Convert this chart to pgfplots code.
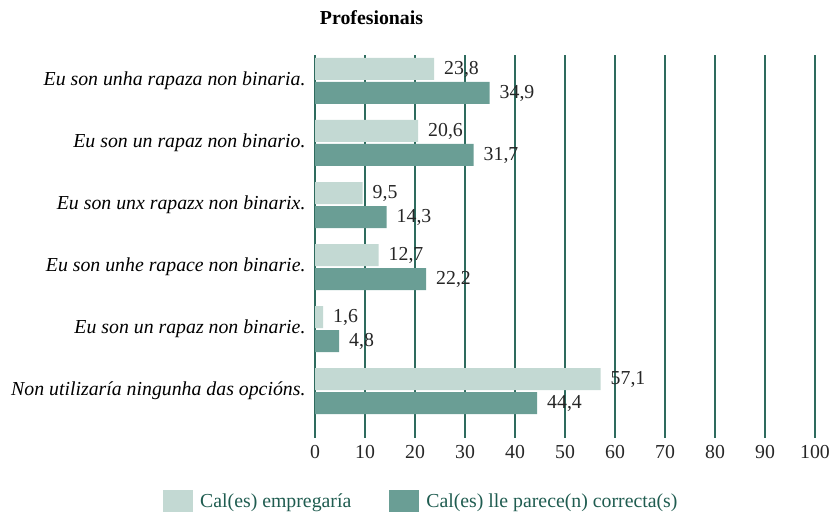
\documentclass[border=0pt]{standalone}
\usepackage{fontspec}
\setmainfont{Liberation Serif}
\usepackage{pgfplots}
\pgfplotsset{compat=1.18}
\definecolor{lightbar}{HTML}{C3D9D3}
\definecolor{darkbar}{HTML}{6A9E95}
\definecolor{gridc}{HTML}{2E6B5E}
\definecolor{legtext}{HTML}{1F5C50}
\newcommand{\fs}{\fontsize{19.8bp}{23bp}\selectfont}
\begin{document}
\begin{tikzpicture}[x=1bp,y=1bp]
\path[use as bounding box] (0,0) rectangle (832,-512);
\node[font=\fs\bfseries] at (371.5,-18) {Profesionais};
\begin{axis}[
 at={(315bp,-438bp)}, anchor=south west,
 scale only axis, width=500bp, height=383bp,
 xmin=0, xmax=100, xtick={0,10,...,100},
 ymin=-0.419, ymax=5.758, y dir=reverse,
 ytick={0,...,5},
 yticklabels={Eu son unha rapaza non binaria.,Eu son un rapaz non binario.,Eu son unx rapazx non binarix.,Eu son unhe rapace non binarie.,Eu son un rapaz non binarie.,Non utilizaría ningunha das opcións.},
 axis line style={draw=none},
 xmajorgrids, grid style={gridc, line width=1.4bp},
 major tick length=0pt,
 /pgf/number format/assume math mode=true,
 tick label style={font=\fs},
 xticklabel style={text=black!85, yshift=-4bp},
 yticklabel style={font=\fs\itshape, xshift=-6bp},
 xbar, bar width=22bp,
 nodes near coords,
 every node near coord/.append style={font=\fs, text=black!85, inner sep=1bp, xshift=9bp, /pgf/number format/.cd, use comma, fixed, fixed zerofill, precision=1, assume math mode=true},
 legend style={at={(-0.31,-0.13)}, anchor=north west, draw=none, fill=none, legend columns=2, font=\fs, text=legtext, /tikz/every even column/.append style={column sep=36bp}},
 legend image code/.code={\fill[#1] (0bp,-11bp) rectangle (30bp,11bp); \path (35bp,0);},
]
\addplot[fill=lightbar, draw=none, bar shift=12bp] coordinates {(23.8,0) (20.6,1) (9.5,2) (12.7,3) (1.6,4) (57.1,5)};
\addplot[fill=darkbar, draw=none, bar shift=-12bp] coordinates {(34.9,0) (31.7,1) (14.3,2) (22.2,3) (4.8,4) (44.4,5)};
\legend{Cal(es) empregaría, Cal(es) lle parece(n) correcta(s)}
\end{axis}
\end{tikzpicture}
\end{document}
